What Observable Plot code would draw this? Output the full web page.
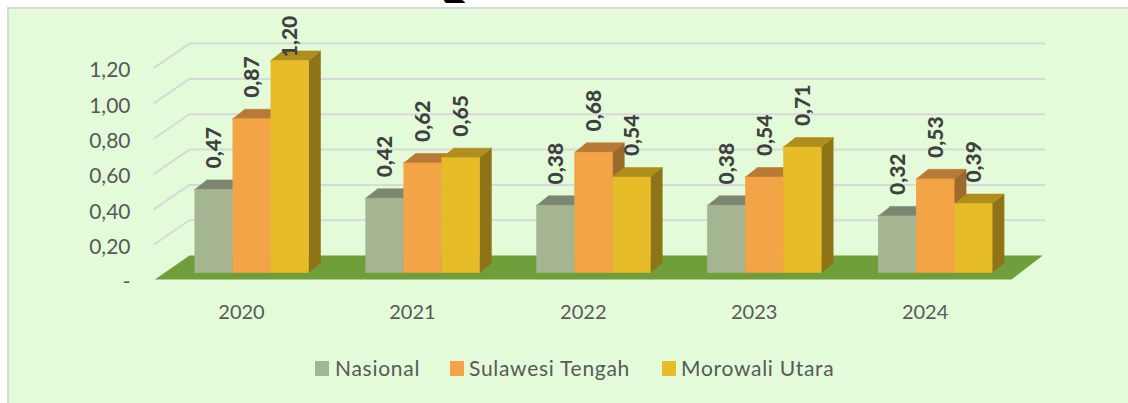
<!DOCTYPE html>
<html><head><meta charset="utf-8">
<script src="https://cdn.jsdelivr.net/npm/d3@7"></script>
<script src="https://cdn.jsdelivr.net/npm/@observablehq/plot@0.6"></script>
<style>
html,body{margin:0;padding:0;background:#fff;width:1128px;height:403px;overflow:hidden}
body{position:relative;font-family:Lato,sans-serif}
#panel{position:absolute;left:7px;top:7px;right:0;bottom:0;background:#E3FBD9;border-left:2px solid #D9D9D9;border-top:2px solid #D9D9D9}
#cut{position:absolute;left:435px;top:0;width:40px;height:3px;overflow:hidden;font:900 48px Lato,sans-serif;color:#000}
#cut span{position:absolute;top:-43px;left:6px;line-height:60px}
#chart{position:absolute;left:0;top:0}
#legend{position:absolute;left:0;top:345px;width:1128px;height:48px;color:#595959;font-size:21px}
#legend i{position:absolute;top:16px;width:14px;height:15px}
#legend span{position:absolute;top:10px;line-height:26px;white-space:nowrap;letter-spacing:.72px}
</style></head>
<body>
<div id="panel"></div>
<div id="cut"><span>g</span></div>
<div id="chart"></div>
<div id="legend"></div>
<script>
const years = ["2020","2021","2022","2023","2024"];
const seriesNames = ["Nasional","Sulawesi Tengah","Morowali Utara"];
const nasional = [0.47,0.42,0.38,0.38,0.32];
const sulteng = [0.87,0.62,0.68,0.54,0.53];
const morowali = [1.20,0.65,0.54,0.71,0.39];
const ticks = [0,0.2,0.4,0.6,0.8,1.0,1.2];
const frontColors = ["#A5B592","#F3A447","#E7BC29"];
const topColors = ["#7D8670","#B87A36","#AF8E1E"];
const sideColors = ["#7D8670","#9C6A2A","#8E7416"];

const values = [nasional,sulteng,morowali];
const barW = 0.2224, depX = 0.07, depY = 0.054;
const faces = [], labels = [];
let id = 0;
function face(color, pts){ id++; for(const [x,y] of pts) faces.push({id, color, x, y}); }
years.forEach((yr,i)=>{
  values.forEach((s,k)=>{
    const v = s[i], x0 = i+(k-1.5)*barW, x1 = x0+barW;
    face(sideColors[k],[[x1,0],[x1+depX,depY],[x1+depX,v+depY],[x1,v]]);
    face(topColors[k],[[x0,v],[x1,v],[x1+depX,v+depY],[x0+depX,v+depY]]);
    face(frontColors[k],[[x0,0],[x1,0],[x1,v],[x0,v]]);
    labels.push({x:(x0+x1)/2, y:Math.min(v,1.1), t:v.toFixed(2).replace(".",",")});
  });
});
const gridPts = [];
ticks.filter(t=>t>0).forEach(t=>{
  gridPts.push({t,x:-0.568,y:t-0.04},{t,x:-0.363,y:t+0.096},{t,x:4.64,y:t+0.096});
});
const floor = [{x:-0.565,y:-0.04},{x:4.447,y:-0.04},{x:4.63,y:0.096},{x:-0.363,y:0.096}];

const fmt = d => d===0 ? "-" : d.toFixed(2).replace(".",",");
const plot = Plot.plot({
  width:1128, height:345,
  marginLeft:134, marginRight:69, marginTop:9, marginBottom:51,
  style:{background:"transparent",fontFamily:"Lato, sans-serif",color:"#595959"},
  x:{domain:[-0.6846,4.728],axis:null},
  y:{domain:[-0.1246,1.489],axis:null},
  color:{type:"identity"},
  marks:[
    Plot.line(gridPts,{x:"x",y:"y",z:"t",stroke:"#D9D9D9",strokeWidth:2}),
    Plot.line(floor,{x:"x",y:"y",fill:"#6F9E3B",stroke:"none"}),
    Plot.line(faces,{x:"x",y:"y",z:"id",fill:"color",stroke:"color",strokeWidth:0.6}),
    Plot.text(labels,{x:"x",y:"y",text:"t",rotate:-90,textAnchor:"start",dx:1,dy:-21,fontWeight:900,fontSize:21,fill:"#404040"}),
    Plot.axisY({ticks,tickFormat:fmt,tickSize:0,tickPadding:4,dy:10,fontSize:21,fill:"#595959",label:null}),
    Plot.axisX({ticks:[0,1,2,3,4],tickFormat:i=>years[i],tickSize:0,tickPadding:10,dx:-10,fontSize:20,fill:"#595959",label:null})
  ]
});
document.getElementById("chart").append(plot);

const lg = document.getElementById("legend");
const swatchX = [315,450,662], textX = [335,469,681];
seriesNames.forEach((n,k)=>{
  const i=document.createElement("i"); i.style.left=swatchX[k]+"px"; i.style.background=frontColors[k]; lg.append(i);
  const s=document.createElement("span"); s.style.left=textX[k]+"px"; s.textContent=n; lg.append(s);
});
</script>
</body></html>
